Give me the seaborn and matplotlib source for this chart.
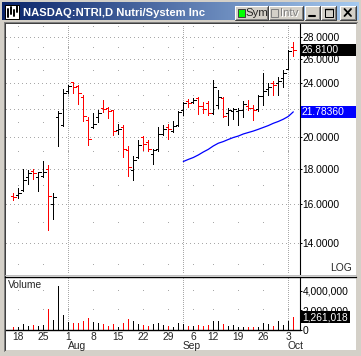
import matplotlib
matplotlib.use("Agg")
import matplotlib.pyplot as plt
import matplotlib.transforms as mtransforms
from matplotlib.patches import Rectangle
from matplotlib.lines import Line2D
from matplotlib.colors import LinearSegmentedColormap
from matplotlib.ticker import NullFormatter
import seaborn as sns
import numpy as np
import pandas as pd

W, H = 361, 356

# trading days, Jul 15 - Oct 4 2005 (Labor Day closed)
dates = pd.bdate_range("2005-07-15", "2005-10-04").drop(pd.Timestamp("2005-09-05"))

opens = [16.42, 16.46, 16.74, 17.50, 17.87, 17.50, 17.55, 17.95, 15.98, 21.40,
         20.84, 23.40, 24.05, 23.76, 22.90, 21.19, 20.70, 21.40, 22.05, 22.04,
         21.90, 20.47, 20.72, 19.18, 17.90, 18.73, 20.00, 19.70, 18.90, 19.20,
         20.20, 20.72, 20.45, 20.85, 21.92, 22.60, 22.50, 22.80, 22.20, 22.45,
         21.70, 22.30, 22.80, 21.70, 21.85, 21.85, 21.92, 22.20, 22.10, 21.97,
         23.00, 23.50, 23.97, 24.00, 24.40, 25.20, 27.10]
highs = [16.55, 16.84, 18.00, 17.91, 17.95, 17.81, 18.44, 18.21, 16.60, 21.85,
         23.55, 23.84, 24.10, 23.84, 23.06, 21.40, 21.70, 21.92, 22.67, 22.14,
         21.92, 20.90, 20.82, 19.40, 18.75, 19.80, 20.05, 19.80, 19.20, 20.70,
         20.84, 20.90, 21.10, 21.85, 22.50, 22.72, 22.80, 22.92, 22.50, 22.57,
         24.25, 23.45, 22.92, 22.10, 22.05, 22.05, 22.57, 22.67, 22.29, 23.06,
         24.80, 23.97, 24.20, 24.50, 25.10, 26.83, 27.60]
lows = [16.19, 16.31, 16.67, 17.09, 17.39, 16.67, 17.51, 14.65, 15.20, 19.45,
        20.80, 23.20, 23.20, 22.40, 21.12, 19.50, 20.66, 21.05, 21.80, 21.33,
        20.14, 20.22, 18.73, 17.57, 17.30, 18.63, 19.16, 19.10, 18.25, 19.10,
        20.14, 19.90, 20.35, 20.75, 21.55, 22.17, 22.45, 21.62, 21.67, 21.55,
        21.62, 22.05, 21.40, 20.84, 21.25, 20.84, 21.40, 21.92, 21.19, 21.88,
        22.29, 23.06, 23.06, 23.06, 23.70, 25.14, 26.28]
closes = [16.33, 16.60, 17.34, 17.71, 17.71, 17.77, 17.81, 16.40, 16.33, 21.70,
          23.20, 23.76, 23.70, 23.20, 21.50, 19.90, 20.92, 21.70, 21.97, 21.87,
          20.40, 20.55, 19.20, 18.10, 18.55, 19.49, 19.55, 19.20, 19.16, 20.20,
          20.55, 20.55, 20.80, 21.80, 22.45, 22.45, 22.67, 22.20, 21.97, 21.70,
          23.70, 22.92, 21.48, 21.92, 22.00, 21.95, 22.40, 22.05, 21.92, 23.00,
          23.40, 23.70, 23.84, 24.20, 24.80, 26.77, 26.81]
volume = [240000, 270000, 580000, 380000, 480000, 380000, 480000, 2090000, 960000, 4440000,
          1500000, 750000, 680000, 680000, 890000, 1200000, 720000, 620000, 580000, 380000,
          580000, 270000, 680000, 1060000, 890000, 580000, 480000, 380000, 580000, 650000,
          440000, 340000, 240000, 680000, 580000, 340000, 340000, 440000, 340000, 440000,
          890000, 850000, 580000, 340000, 440000, 250000, 220000, 260000, 240000, 270000,
          680000, 580000, 380000, 890000, 480000, 890000, 1261018]

# moving average, shown from Sep 1 on
ma_start = 34
ma_values = [18.43, 18.56, 18.68, 18.84, 19.03, 19.20, 19.42, 19.60, 19.71, 19.85,
             19.98, 20.08, 20.22, 20.32, 20.42, 20.54, 20.67, 20.80, 20.96, 21.09,
             21.25, 21.45, 21.7836]

price_ticks = [14, 16, 18, 20, 22, 24, 26, 28]
price_tick_labels = ["14.0000", "16.0000", "18.0000", "20.0000", "", "24.0000",
                     "26.0000", "28.0000"]  # 22 sits under the MA tag
price_dots = [13, 15, 17, 19, 21, 23, 25, 27, 29]
volume_ticks = [0, 2000000, 4000000]
volume_tick_labels = ["0", "2,000,000", "4,000,000"]

df = pd.DataFrame({"date": dates, "open": opens, "high": highs, "low": lows,
                   "close": closes, "volume": volume})
df["i"] = np.arange(len(df))
df["color"] = np.where(df["close"] < df["open"], "#ff0000", "#000000")

week_idx = df.index[df["date"].dt.dayofweek.diff().fillna(0) < 0].tolist()
month_idx = df.index[df["date"].dt.month.diff().fillna(0) != 0].tolist()

sns.set_style("white")
plt.rcParams["font.family"] = ["Liberation Sans", "DejaVu Sans"]

fig = plt.figure(figsize=(W / 100, H / 100), dpi=100, facecolor="#d4d0c8")
ident = mtransforms.IdentityTransform()
PX = 0.72
BAR_LW = 0.7
GRID = "#a8a8a8"
FS = 7.4


def box(x0, y0, x1, y1, **kw):
    fig.add_artist(Rectangle((x0, H - y1), x1 - x0, y1 - y0, transform=ident, **kw))


def line(xs, ys, **kw):
    kw.setdefault("lw", PX)
    fig.add_artist(Line2D(xs, [H - y for y in ys], transform=ident, **kw))


def label(x, y, s, **kw):
    kw.setdefault("fontsize", FS)
    kw.setdefault("va", "center")
    fig.text(x, H - y, s, transform=ident, **kw)


def axes_px(x0, y0, x1, y1):
    return fig.add_axes([x0 / W, 1 - y1 / H, (x1 - x0) / W, (y1 - y0) / H])


# window frame and white chart panel
box(5, 23, 356, 350, fc="white", ec="none", zorder=-1)
line([3.5, 3.5], [21.5, 351], color="#808080")
line([3.5, 357], [21.5, 21.5], color="#808080")
line([4.5, 4.5], [22.5, 350], color="#404040")
line([4.5, 356], [22.5, 22.5], color="#404040")

# title bar
tax = axes_px(2, 2, 359, 20.5)
cmap = LinearSegmentedColormap.from_list("tb", ["#0a246a", "#a6caf0"])
tax.imshow(np.linspace(0, 1, 256)[None, :], aspect="auto", cmap=cmap, extent=(0, 1, 0, 1))
tax.axis("off")

box(5, 5, 19, 19, fc="white", ec="black", lw=PX)
for bx, by0, by1 in [(8, 9, 17), (11, 7, 14), (14, 10, 16), (16.5, 6, 12)]:
    line([bx, bx], [by0, by1], color="black", lw=1.4)
label(23, 12.8, "NASDAQ:NTRI,D Nutri/System Inc", color="white",
      fontweight="bold", fontsize=8.1)


def button(x0, x1, y0=6, y1=19.5):
    box(x0, y0, x1, y1, fc="#d4d0c8", ec="none")
    line([x0, x0, x1], [y1, y0, y0], color="white")
    line([x0, x1, x1], [y1, y1, y0], color="#404040")
    line([x0 + 1, x1 - 1, x1 - 1], [y1 - 1, y1 - 1, y0 + 1], color="#808080")


button(235, 267.5)
box(237.5, 8.5, 244.5, 16.5, fc="#00ff00", ec="#404040", lw=PX)
label(245.5, 12.9, "Sym", fontsize=8.2)
button(269, 302.5)
box(271, 8.5, 278, 16.5, fc="#d4d0c8", ec="#808080", lw=PX)
label(281, 13.6, "Intv", fontsize=8.2, color="white")
label(280.3, 12.9, "Intv", fontsize=8.2, color="#808080")
button(305, 319.5)
line([309, 315], [16, 16], color="black", lw=1.5)
button(321, 336)
box(324.5, 8.5, 332.5, 16.5, fc="none", ec="black", lw=PX)
line([324.5, 332.5], [9.2, 9.2], color="black", lw=1.0)
button(340, 355.5)
line([344.5, 351], [9, 16], color="black", lw=1.3)
line([344.5, 351], [16, 9], color="black", lw=1.3)

# price pane
pax = axes_px(6, 24, 300, 274)
pax.set_yscale("log")
pax.set_xlim(-1.46, 57.34)
pax.set_ylim(12.62, 29.28)

for lv in price_ticks:
    pax.axhline(lv, color=GRID, lw=PX, dashes=(1, 4), antialiased=False, zorder=0)
for lv in price_dots:
    pax.plot(week_idx, [lv] * len(week_idx), ls="none", marker=",", color=GRID, zorder=0)
for m in month_idx:
    pax.axvline(m, color=GRID, lw=PX, dashes=(1, 2), antialiased=False, zorder=0)

pax.vlines(df["i"], df["low"], df["high"], colors=df["color"], lw=BAR_LW, antialiased=False)
pax.hlines(df["open"], df["i"] - 0.45, df["i"], colors=df["color"], lw=BAR_LW, antialiased=False)
pax.hlines(df["close"], df["i"], df["i"] + 0.45, colors=df["color"], lw=BAR_LW, antialiased=False)

ma = pd.DataFrame({"i": df["i"].iloc[ma_start:ma_start + len(ma_values)].values, "ma": ma_values})
sns.lineplot(data=ma, x="i", y="ma", ax=pax, color="#0000ff", lw=0.9)

pax.yaxis.tick_right()
pax.set_yticks(price_ticks)
pax.set_yticklabels(price_tick_labels)
pax.yaxis.set_minor_formatter(NullFormatter())
pax.tick_params(axis="y", which="minor", length=0)
pax.tick_params(axis="y", which="major", length=2 * PX, width=PX, pad=0.5,
                labelsize=FS, colors="black")
pax.set_xticks([])
pax.set_xlabel("")
pax.set_ylabel("")
for s in ["top", "left", "bottom"]:
    pax.spines[s].set_visible(False)
pax.spines["right"].set_color("black")
pax.spines["right"].set_linewidth(0.8)

# volume pane
vax = axes_px(6, 277, 300, 329.5)
vax.set_xlim(pax.get_xlim())
vax.set_ylim(0, 5385000)
for lv in volume_ticks[1:]:
    vax.plot(week_idx, [lv] * len(week_idx), ls="none", marker=",", color=GRID, zorder=0)
for m in month_idx:
    vax.axvline(m, color=GRID, lw=PX, dashes=(1, 2), antialiased=False, zorder=0)
vax.vlines(df["i"], 0, df["volume"], colors=df["color"], lw=BAR_LW, antialiased=False)

vax.yaxis.tick_right()
vax.set_yticks(volume_ticks)
vax.set_yticklabels(volume_tick_labels)
vax.tick_params(axis="y", length=2 * PX, width=PX, pad=0.5, labelsize=FS, colors="black")
vax.set_xticks(week_idx)
vax.tick_params(axis="x", length=2 * PX, width=PX, labelbottom=False, colors="black")
for s in ["top", "left"]:
    vax.spines[s].set_visible(False)
vax.spines["right"].set_color("black")
vax.spines["right"].set_linewidth(0.8)
vax.spines["bottom"].set_color("black")
vax.spines["bottom"].set_linewidth(1.0)

xlab = mtransforms.blended_transform_factory(vax.transData, vax.transAxes)
for i in week_idx:
    vax.annotate(str(df["date"].iloc[i].day), xy=(i, 0), xycoords=xlab,
                 xytext=(0, -8), textcoords="offset pixels", ha="center", va="center",
                 fontsize=FS)
for m in month_idx:
    vax.annotate(df["date"].iloc[m].strftime("%b"), xy=(m, 0), xycoords=xlab,
                 xytext=(-0.5, -16.5), textcoords="offset pixels", ha="left", va="center",
                 fontsize=FS)

# pane separator
line([5, 356], [274.5, 274.5], color="#c0c0c0")
line([5, 356], [276.6, 276.6], color="black", lw=1.0)

label(8, 285.5, "Volume")
label(352, 268.3, "LOG", ha="right")


def tag(ax, value, text, color, width):
    x0 = ax.transAxes.transform((1, 0))[0]
    y0 = ax.transData.transform((0, value))[1]
    fig.add_artist(Rectangle((x0 + 0.5, y0 - 5.8), width, 11.6, transform=ident,
                             fc=color, ec="none", zorder=3))
    fig.text(x0 + 2, y0, text, transform=ident, color="white", fontsize=FS,
             va="center", zorder=4)


tag(pax, closes[-1], f"{closes[-1]:.4f}", "#000000", 55)
tag(pax, ma_values[-1], f"{ma_values[-1]:.5f}", "#0000ff", 55)
tag(vax, volume[-1], f"{volume[-1]:,}", "#000000", 49.5)

fig.savefig("out.png", dpi=100, facecolor=fig.get_facecolor())
